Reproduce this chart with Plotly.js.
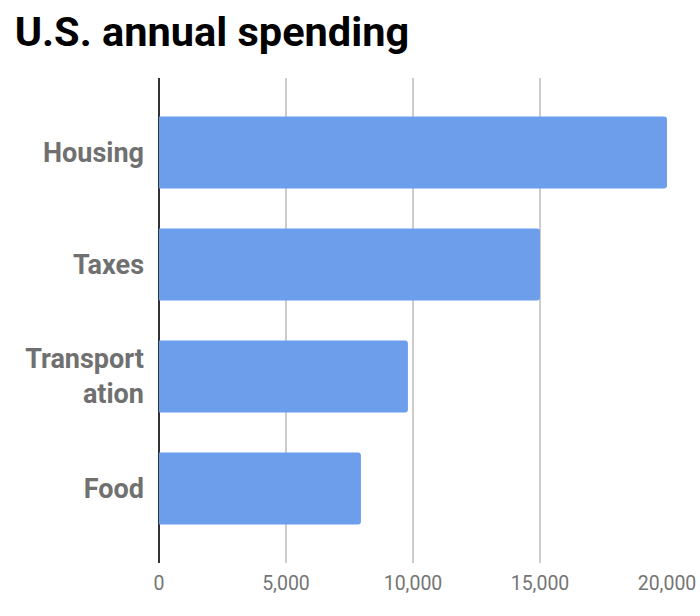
<!DOCTYPE html>
<html>
<head>
<meta charset="utf-8">
<script src="https://cdn.plot.ly/plotly-3.0.1.min.js"></script>
<style>
  body { margin: 0; background: #fff; }
  #chart { width: 700px; height: 616px; }
</style>
</head>
<body>
<div id="chart"></div>
<script>
var categories = ['Housing', 'Taxes', 'Transport<br>ation', 'Food'];
var spending = [20000, 15000, 9800, 7950];
var xTicks = [0, 5000, 10000, 15000, 20000];
var xTickLabels = ['0', '5,000', '10,000', '15,000', '20,000'];

var bars = {
    type: 'bar',
    orientation: 'h',
    x: spending,
    y: categories,
    marker: { color: '#6d9eeb', cornerradius: 3 },
    hoverinfo: 'x+y'
};

var layout = {
    width: 700,
    height: 616,
    paper_bgcolor: '#fff',
    plot_bgcolor: '#fff',
    margin: { l: 159, r: 33, t: 78, b: 53 },
    showlegend: false,
    bargap: 0.357,
    font: { family: 'Roboto, sans-serif' },
    title: {
        text: 'U.S. annual spending',
        font: { family: 'Roboto', size: 41.5, weight: 'bold', color: '#000' },
        xref: 'container',
        yref: 'container',
        x: 0.021,
        xanchor: 'left',
        y: 1 - 31 / 616,
        yanchor: 'middle'
    },
    xaxis: {
        range: [0, 20000],
        tickvals: xTicks,
        ticktext: xTickLabels,
        showgrid: true,
        gridcolor: '#cccccc',
        gridwidth: 1.5,
        zeroline: true,
        zerolinecolor: '#333333',
        zerolinewidth: 1.5,
        showline: false,
        ticks: '',
        ticklabelstandoff: 6,
        tickfont: { family: 'Roboto', size: 19.5, color: '#757575' }
    },
    yaxis: {
        type: 'category',
        range: [3.665, -0.665],
        showgrid: false,
        zeroline: false,
        showline: false,
        ticks: '',
        ticklabelstandoff: 14,
        tickfont: { family: 'Roboto', size: 27, weight: 'bold', color: '#707070' }
    }
};

Plotly.newPlot('chart', [bars], layout, { displayModeBar: false, staticPlot: true });
</script>
</body>
</html>
